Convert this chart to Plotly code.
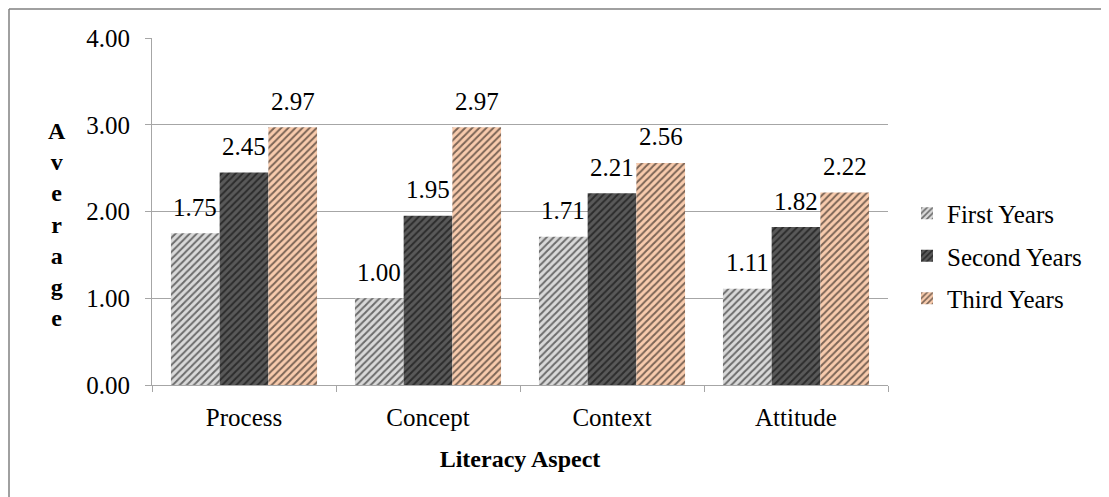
import plotly.graph_objects as go

categories = ["Process", "Concept", "Context", "Attitude"]
series_names = ["First Years", "Second Years", "Third Years"]
first_years = [1.75, 1.00, 1.71, 1.11]
second_years = [2.45, 1.95, 2.21, 1.82]
third_years = [2.97, 2.97, 2.56, 2.22]
y_ticks = [0, 1, 2, 3, 4]

series_values = [first_years, second_years, third_years]
colors = ["#d9d9d9", "#595959", "#f8cbad"]

W, H = 1109, 497
OFF = 8  # page body margin
# target plot area in window pixels: x 152..888, y 38..385
L, T = 152 - OFF, 38 - OFF
R = W + OFF - 888
B = H + OFF - 385
pw, ph = W - L - R, H - T - B
FONT = "'Liberation Serif', 'Times New Roman', serif"
FS = 25
bargap = 0.206

fig = go.Figure()
for i, (name, vals) in enumerate(zip(series_names, series_values)):
    fig.add_trace(go.Bar(
        x=categories, y=vals, name=name, legendgroup=name,
        marker=dict(color=colors[i], line=dict(width=0),
                    pattern=dict(shape="/", fgcolor="#000000", bgcolor=colors[i],
                                 size=5, solidity=0.4)),
        hoverinfo="x+y+name",
    ))

cat_w = pw / len(categories)
bar_w = cat_w * (1 - bargap) / 3
annotations = []
for i, vals in enumerate(series_values):
    for c, v in zip(categories, vals):
        annotations.append(dict(
            x=c, y=v, xref="x", yref="y", text=f"{v:.2f}", showarrow=False,
            xshift=(i - 1) * bar_w, yshift=26, yanchor="middle",
            font=dict(family=FONT, size=FS, color="#000000")))


def px(x):
    return (x - OFF - L) / pw


def py(y):
    return (H - B - (y - OFF)) / ph


annotations.append(dict(
    x=px(57), y=py(224), xref="paper", yref="paper",
    text="<b>" + "<br>".join(list("Average")) + "</b>", showarrow=False,
    font=dict(family=FONT, size=24, color="#000000"), xanchor="center", yanchor="middle"))

shapes = [
    dict(type="line", xref="paper", yref="paper", x0=px(9), x1=px(W + 20), y0=py(9), y1=py(9),
         line=dict(color="#808080", width=1.5)),
    dict(type="line", xref="paper", yref="paper", x0=px(9), x1=px(9), y0=py(9), y1=py(H + 20),
         line=dict(color="#808080", width=1.5)),
]

fig.update_layout(
    width=W, height=H,
    margin=dict(l=L, r=R, t=T, b=B, autoexpand=False),
    paper_bgcolor="white", plot_bgcolor="white",
    barmode="group", bargap=bargap, bargroupgap=0,
    font=dict(family=FONT, size=FS, color="#000000"),
    showlegend=True,
    legend=dict(x=px(907), y=py(256), xanchor="left", yanchor="middle",
                font=dict(family=FONT, size=FS, color="#000000"),
                tracegroupgap=7, traceorder="grouped", bgcolor="rgba(0,0,0,0)"),
    xaxis=dict(
        showgrid=False, showline=True, linecolor="#a6a6a6", linewidth=1,
        ticks="outside", tickson="boundaries", ticklen=6, tickcolor="#a6a6a6",
        tickfont=dict(family=FONT, size=FS), ticklabelstandoff=10,
        title=dict(text="<b>Literacy Aspect</b>", font=dict(family=FONT, size=24), standoff=20),
    ),
    yaxis=dict(
        range=[0, 4], tickvals=y_ticks, tickformat=".2f",
        showgrid=True, gridcolor="#a6a6a6", gridwidth=1,
        showline=True, linecolor="#a6a6a6", linewidth=1,
        ticks="outside", ticklen=6, tickcolor="#a6a6a6",
        tickfont=dict(family=FONT, size=FS), zeroline=False, ticklabelstandoff=10,
    ),
    annotations=annotations,
    shapes=shapes,
)

fig.write_html("out.html")
